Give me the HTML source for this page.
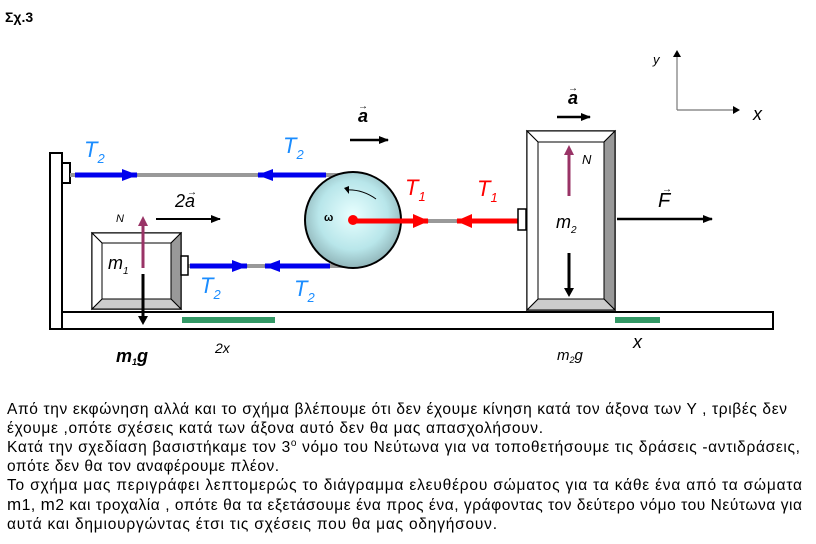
<!DOCTYPE html>
<html><head><meta charset="utf-8"><style>
html,body{margin:0;padding:0;background:#fff;width:816px;height:544px;overflow:hidden}
svg{display:block}
text{font-family:"Liberation Sans",Arial,sans-serif}
</style></head><body>
<svg width="816" height="544" viewBox="0 0 816 544" xmlns="http://www.w3.org/2000/svg">
<defs>
<marker id="hb" markerWidth="16" markerHeight="12" refX="15" refY="6" orient="auto" markerUnits="userSpaceOnUse"><path d="M0,0 L16,6 L0,12 z" fill="#0000ee"/></marker>
<marker id="hr" markerWidth="16" markerHeight="14" refX="15" refY="7" orient="auto" markerUnits="userSpaceOnUse"><path d="M0,0 L16,7 L0,14 z" fill="#ff0000"/></marker>
<marker id="hk" markerWidth="10" markerHeight="8" refX="9" refY="4" orient="auto" markerUnits="userSpaceOnUse"><path d="M0,0 L10,4 L0,8 z" fill="#000"/></marker>
<radialGradient id="pg" cx="0.5" cy="0.45" r="0.6"><stop offset="0" stop-color="#e8ffff"/><stop offset="0.6" stop-color="#b8e6ea"/><stop offset="1" stop-color="#86a8ac"/></radialGradient>
</defs>
<text x="5" y="22" font-size="14" font-weight="bold">Σχ.3</text>

<text x="653" y="64" font-size="13" font-style="italic">y</text>
<line x1="677" y1="56" x2="677" y2="110" stroke="#777" stroke-width="1.2"/>
<path d="M673,57 L677,50 L681,57 z" fill="#000"/>
<line x1="677" y1="110" x2="734" y2="110" stroke="#777" stroke-width="1.2"/>
<path d="M733,106 L740,110 L733,114 z" fill="#000"/>
<text x="753" y="120" font-size="18" font-style="italic">x</text>

<rect x="50" y="153" width="12" height="176" fill="#fff" stroke="#000" stroke-width="2"/>
<rect x="62" y="312" width="711" height="17" fill="#fff" stroke="#000" stroke-width="2"/>
<rect x="62" y="163" width="8" height="20" fill="#fff" stroke="#000" stroke-width="2"/>
<rect x="182" y="317" width="93" height="6" fill="#339966"/>
<rect x="615" y="317" width="45" height="6" fill="#339966"/>

<line x1="70" y1="175" x2="355" y2="175" stroke="#999" stroke-width="4"/>
<line x1="188" y1="266" x2="355" y2="266" stroke="#999" stroke-width="4"/>
<line x1="400" y1="221" x2="518" y2="221" stroke="#999" stroke-width="4"/>

<circle cx="353" cy="220" r="48" fill="url(#pg)" stroke="#000" stroke-width="2"/>
<path d="M376,199 Q362,189 346,190" fill="none" stroke="#000" stroke-width="1"/>
<path d="M344,188 L349,186 L349,194 z" fill="#000"/>
<text x="324" y="221" font-size="11" font-weight="bold">ω</text>

<line x1="75" y1="175" x2="137" y2="175" stroke="#0000ee" stroke-width="5" marker-end="url(#hb)"/>
<line x1="326" y1="175" x2="258" y2="175" stroke="#0000ee" stroke-width="5" marker-end="url(#hb)"/>
<line x1="190" y1="266" x2="247" y2="266" stroke="#0000ee" stroke-width="5" marker-end="url(#hb)"/>
<line x1="330" y1="266" x2="265" y2="266" stroke="#0000ee" stroke-width="5" marker-end="url(#hb)"/>
<text x="84" y="157" font-size="22" font-style="italic" fill="#1a8cff">T<tspan font-size="13" dy="6">2</tspan></text>
<text x="283" y="153" font-size="22" font-style="italic" fill="#1a8cff">T<tspan font-size="13" dy="6">2</tspan></text>
<text x="200" y="293" font-size="22" font-style="italic" fill="#1a8cff">T<tspan font-size="13" dy="6">2</tspan></text>
<text x="294" y="296" font-size="22" font-style="italic" fill="#1a8cff">T<tspan font-size="13" dy="6">2</tspan></text>

<line x1="355" y1="221" x2="428" y2="221" stroke="#ff0000" stroke-width="5" marker-end="url(#hr)"/>
<line x1="518" y1="221" x2="457" y2="221" stroke="#ff0000" stroke-width="5" marker-end="url(#hr)"/>
<circle cx="353" cy="220" r="5" fill="#ff0000"/>
<text x="405" y="195" font-size="22" font-style="italic" fill="#ff0000">T<tspan font-size="13" dy="6">1</tspan></text>
<text x="477" y="196" font-size="22" font-style="italic" fill="#ff0000">T<tspan font-size="13" dy="6">1</tspan></text>

<rect x="92" y="233" width="89" height="76" fill="#fff" stroke="#000" stroke-width="1.5"/>
<polygon points="92,233 181,233 171,243 102,243" fill="#fff" stroke="#000" stroke-width="1"/>
<polygon points="181,233 181,309 171,299 171,243" fill="#999" stroke="#000" stroke-width="1"/>
<polygon points="92,309 181,309 171,299 102,299" fill="#ccc" stroke="#000" stroke-width="1"/>
<polygon points="92,233 102,243 102,299 92,309" fill="#fff" stroke="#000" stroke-width="1"/>
<rect x="181" y="256" width="7" height="19" fill="#fff" stroke="#000" stroke-width="1.5"/>
<text x="108" y="269" font-size="18" font-style="italic">m<tspan font-size="10" dy="5">1</tspan></text>
<line x1="143" y1="268" x2="143" y2="224" stroke="#993366" stroke-width="3"/>
<path d="M138,226 L143,216 L148,226 z" fill="#993366"/>
<text x="116" y="222" font-size="11" font-style="italic">N</text>
<line x1="143" y1="274" x2="143" y2="318" stroke="#000" stroke-width="3"/>
<path d="M138,316 L143,325 L148,316 z" fill="#000"/>
<text x="116" y="362" font-size="18" font-style="italic" font-weight="bold">m<tspan font-size="9" dy="3">1</tspan><tspan dy="-3">g</tspan></text>
<text x="215" y="353" font-size="14" font-style="italic">2x</text>

<text x="175" y="207" font-size="18" font-style="italic">2a</text>
<text x="187" y="195" font-size="10">→</text>
<line x1="156" y1="219" x2="220" y2="219" stroke="#000" stroke-width="2" marker-end="url(#hk)"/>
<text x="358" y="122" font-size="18" font-style="italic" font-weight="bold">a</text>
<text x="358" y="109" font-size="10">→</text>
<line x1="350" y1="140" x2="388" y2="140" stroke="#000" stroke-width="2.5" marker-end="url(#hk)"/>

<rect x="527" y="131" width="88" height="179" fill="#fff" stroke="#000" stroke-width="1.5"/>
<polygon points="527,131 615,131 604,142 538,142" fill="#fff" stroke="#000" stroke-width="1"/>
<polygon points="615,131 615,310 604,299 604,142" fill="#999" stroke="#000" stroke-width="1"/>
<polygon points="527,310 615,310 604,299 538,299" fill="#ccc" stroke="#000" stroke-width="1"/>
<polygon points="527,131 538,142 538,299 527,310" fill="#fff" stroke="#000" stroke-width="1"/>
<rect x="518" y="209" width="8" height="21" fill="#fff" stroke="#000" stroke-width="1.5"/>
<text x="556" y="228" font-size="18" font-style="italic">m<tspan font-size="10" dy="5">2</tspan></text>
<line x1="569" y1="196" x2="569" y2="153" stroke="#993366" stroke-width="3"/>
<path d="M564,155 L569,145 L574,155 z" fill="#993366"/>
<text x="582" y="164" font-size="13" font-style="italic">N</text>
<line x1="569" y1="253" x2="569" y2="290" stroke="#000" stroke-width="3"/>
<path d="M564,288 L569,297 L574,288 z" fill="#000"/>
<text x="557" y="360" font-size="15" font-style="italic">m<tspan font-size="9" dy="3">2</tspan><tspan dy="-3">g</tspan></text>
<text x="633" y="348" font-size="18" font-style="italic">x</text>
<text x="568" y="104" font-size="18" font-style="italic" font-weight="bold">a</text>
<text x="568" y="91" font-size="10">→</text>
<line x1="557" y1="117" x2="590" y2="117" stroke="#000" stroke-width="2.5" marker-end="url(#hk)"/>
<text x="658" y="207" font-size="20" font-style="italic">F</text>
<text x="662" y="192" font-size="10">→</text>
<line x1="617" y1="219" x2="712" y2="219" stroke="#000" stroke-width="2.5" marker-end="url(#hk)"/>

<g font-size="15.5" fill="#000">
<text x="7" y="414" textLength="780" lengthAdjust="spacing">Από την εκφώνηση αλλά και το σχήμα βλέπουμε ότι δεν έχουμε κίνηση κατά τον άξονα των Υ , τριβές δεν</text>
<text x="7" y="433" textLength="536" lengthAdjust="spacing">έχουμε ,οπότε σχέσεις κατά των άξονα αυτό δεν θα μας απασχολήσουν.</text>
<text x="7" y="452" textLength="793" lengthAdjust="spacing">Κατά την σχεδίαση βασιστήκαμε  τον 3<tspan font-size="10" dy="-6">ο</tspan><tspan dy="6"> νόμο του Νεύτωνα για να τοποθετήσουμε τις δράσεις -αντιδράσεις,</tspan></text>
<text x="7" y="471" textLength="272" lengthAdjust="spacing">οπότε δεν θα τον αναφέρουμε πλέον.</text>
<text x="7" y="490" textLength="795" lengthAdjust="spacing">Το σχήμα μας περιγράφει λεπτομερώς το διάγραμμα ελευθέρου σώματος για τα κάθε ένα από τα σώματα</text>
<text x="7" y="510" textLength="795" lengthAdjust="spacing"><tspan font-size="17">m</tspan>1, <tspan font-size="17">m</tspan>2 και  τροχαλία , οπότε θα τα εξετάσουμε ένα προς ένα, γράφοντας τον δεύτερο νόμο του Νεύτωνα για</text>
<text x="7" y="529" textLength="490" lengthAdjust="spacing">αυτά και  δημιουργώντας έτσι  τις σχέσεις που θα μας οδηγήσουν.</text>
</g>
</svg>
</body></html>
